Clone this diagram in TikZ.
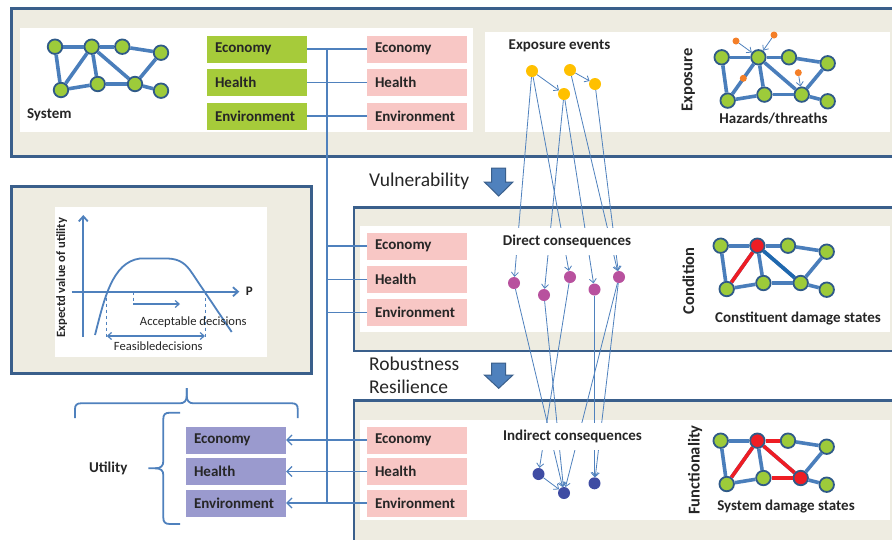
\documentclass[tikz,border=0pt]{standalone}
\usepackage{fontspec}
\setmainfont{Carlito}
\usetikzlibrary{arrows.meta}
\definecolor{beige}{HTML}{EEECE1}
\definecolor{bord}{HTML}{3A5F8B}
\definecolor{gboxc}{HTML}{A6CB3A}
\definecolor{pboxc}{HTML}{F8C7C5}
\definecolor{uboxc}{HTML}{9A9ACE}
\definecolor{cblue}{HTML}{4F81BD}
\definecolor{netblue}{HTML}{4A7EBB}
\definecolor{ngreen}{HTML}{9DCB3A}
\definecolor{nbord}{HTML}{2F5A88}
\definecolor{yel}{HTML}{FFC000}
\definecolor{mag}{HTML}{B8519E}
\definecolor{ind}{HTML}{3F4CA3}
\definecolor{orng}{HTML}{F47F28}
\definecolor{dred}{HTML}{EE1D24}
\definecolor{dblue}{HTML}{1F68AE}
\definecolor{txt}{HTML}{262626}
\newcommand\lblfont{\bfseries\fontsize{15}{18}\selectfont}
\newcommand\rotfont{\bfseries\fontsize{16.5}{19}\selectfont}
\newcommand\bigfont{\fontsize{19.5}{23}\selectfont}
\newcommand\plotfont{\fontsize{12.6}{15}\selectfont}
% network nodes: prefix, fill of node 2, fill of node 7
\newcommand\netnodes[3]{%
  \node[nd] (#1-1) at (55,46.7) {};
  \node[nd,fill=#2] (#1-2) at (91.7,46.7) {};
  \node[nd] (#1-3) at (122.3,46.7) {};
  \node[nd] (#1-4) at (161,52.7) {};
  \node[nd] (#1-5) at (61,90) {};
  \node[nd] (#1-6) at (97.7,84) {};
  \node[nd,fill=#3] (#1-7) at (135,84) {};
  \node[nd] (#1-8) at (161,90.7) {};
  \foreach \a/\b in {1/2,2/3,3/4,1/5,5/2,2/6,2/7,5/6,6/7,7/4,7/8}
    \draw[edge] (#1-\a) -- (#1-\b);
}
\begin{document}
\begin{tikzpicture}[x=1pt,y=-1pt,
  panel/.style={fill=beige,draw=bord,line width=2.6pt},
  inner/.style={fill=white,draw=none},
  lbox/.style={rectangle,minimum height=27pt,text width=84pt,inner xsep=8pt,inner ysep=0pt,
     align=left,font=\lblfont,text=txt},
  gbox/.style={lbox,fill=gboxc},
  pbox/.style={lbox,fill=pboxc},
  ubox/.style={lbox,fill=uboxc},
  conn/.style={draw=cblue,line width=1.2pt},
  thin/.style={draw=cblue,line width=0.8pt},
  arr/.style={-{Straight Barb[length=4pt,width=7pt]}},
  bigarr/.style={-{Straight Barb[length=5pt,width=10pt]}},
  nd/.style={circle,minimum size=14.5pt,inner sep=0pt,draw=nbord,line width=1.8pt,fill=ngreen},
  edge/.style={draw=netblue,line width=3.6pt},
  redge/.style={draw=dred,line width=3.6pt},
  dot/.style={circle,minimum size=12pt,inner sep=0pt,draw=none},
  odot/.style={circle,minimum size=7pt,inner sep=0pt,fill=orng},
  tlabel/.style={font=\lblfont,text=txt,inner sep=0pt},
  clabel/.style={font=\lblfont,text=txt,fill=white,inner xsep=2pt,inner ysep=0pt,minimum height=27pt},
  rlabel/.style={font=\rotfont,text=txt,inner sep=0pt,rotate=90},
  blockarr/.style={fill=cblue,draw=bord,line width=1pt},
  plotline/.style={draw=cblue,line width=1.8pt},
  brace/.style={draw=cblue,line width=1.8pt}
]
\clip (0,0) rectangle (892,539);
\fill[white] (0,0) rectangle (892,539);

% ---------- panels ----------
\draw[panel] (11.7,8.3) rectangle (910,156.7);
\fill[inner] (20,28) rectangle (473,132);
\fill[inner] (485,32) rectangle (890,132);

\draw[panel] (354,207.7) rectangle (910,351);
\fill[inner] (360,226) rectangle (890,331.7);

\draw[panel] (354,400.5) rectangle (910,580);
\fill[inner] (360,420) rectangle (890,520);

\draw[panel] (11.7,186.7) rectangle (311.7,373.3);
\fill[inner] (55,207.3) rectangle (266.7,356.7);

% ---------- system network ----------
\netnodes{s}{ngreen}{ngreen}
\node[tlabel] (system) at (49.3,114.3) {System};

% ---------- top boxes ----------
\node[gbox] (ge) at (257,49) {Economy};
\node[gbox] (gh) at (257,82.5) {Health};
\node[gbox] (gv) at (257,116) {Environment};
\node[pbox] (pe) at (417,49) {Economy};
\node[pbox] (ph) at (417,82.5) {Health};
\node[pbox] (pv) at (417,116) {Environment};

% ---------- middle boxes ----------
\node[pbox] (me) at (417,246) {Economy};
\node[pbox] (mh) at (417,279.5) {Health};
\node[pbox] (mv) at (417,312.5) {Environment};

% ---------- bottom boxes ----------
\node[pbox] (be) at (417,440) {Economy};
\node[pbox] (bh) at (417,471.5) {Health};
\node[pbox] (bv) at (417,503) {Environment};
\node[ubox] (ue) at (236,440) {Economy};
\node[ubox] (uh) at (236,471.5) {Health};
\node[ubox] (uv) at (236,503) {Environment};

% ---------- trunk connectors ----------
\coordinate (t1) at (327,49);
\coordinate (t2) at (327,503);
\draw[conn] (ge.east) -- (pe.west);
\draw[conn] (gh.east) -- (ph.west);
\draw[conn] (gv.east) -- (pv.west);
\draw[conn] (t1) -- (t2);
\draw[conn] (t1 |- me.west) -- (me.west);
\draw[conn] (t1 |- mh.west) -- (mh.west);
\draw[conn] (t1 |- mv.west) -- (mv.west);
\draw[conn,bigarr] (be.west) -- (ue.east);
\draw[conn,bigarr] (bh.west) -- (uh.east);
\draw[conn,bigarr] (bv.west) -- (uv.east);

% ---------- hazard network ----------
\begin{scope}[shift={(666.7,10.6)}]
\netnodes{h}{ngreen}{ngreen}
\end{scope}
\node[odot] (o1) at (736,41) {};
\node[odot] (o2) at (774,35) {};
\node[odot] (o3) at (743.3,78.3) {};
\node[odot] (o4) at (798.3,72.7) {};
\draw[thin,arr] (o1) -- (h-2);
\draw[thin,arr] (o2) -- (h-2);
\draw[thin,arr] (o4) -- (h-7);
\node[rlabel] (lexp) at (688.3,80) {Exposure};
\node[tlabel] (lhaz) at (773.5,119) {Hazards/threaths};

% ---------- condition network ----------
\begin{scope}[shift={(665.7,199)}]
\netnodes{c}{dred}{ngreen}
\end{scope}
\draw[redge] (c-2) -- (c-5);
\draw[draw=dblue,line width=3.6pt] (c-2) -- (c-7);
\node[rlabel] (lcond) at (688.3,281) {Condition};
\node[tlabel] (lcds) at (798,318.3) {Constituent damage states};

% ---------- functionality network ----------
\begin{scope}[shift={(665.7,394)}]
\netnodes{f}{dred}{dred}
\end{scope}
\draw[redge] (f-2) -- (f-3);
\draw[redge] (f-2) -- (f-5);
\draw[redge] (f-2) -- (f-7);
\draw[redge] (f-6) -- (f-7);
\node[rlabel] (lfun) at (695,470) {Functionality};
\node[tlabel] (lsds) at (786,506.7) {System damage states};

% ---------- exposure / consequences ----------
\node[tlabel] (lev) at (559.5,46) {Exposure events};

\node[dot,fill=yel] (y1) at (532,71) {};
\node[dot,fill=yel] (y2) at (564,94) {};
\node[dot,fill=yel] (y3) at (570,70) {};
\node[dot,fill=yel] (y4) at (595,84) {};
\node[dot,fill=mag] (m1) at (514,283) {};
\node[dot,fill=mag] (m2) at (544,295) {};
\node[dot,fill=mag] (m3) at (570,277) {};
\node[dot,fill=mag] (m4) at (594.5,289.5) {};
\node[dot,fill=mag] (m5) at (619,277) {};
\node[dot,fill=ind] (b1) at (538.5,474) {};
\node[dot,fill=ind] (b2) at (564,493) {};
\node[dot,fill=ind] (b3) at (594.5,483.3) {};

\draw[thin,arr] (y1) -- (y2);
\draw[thin,arr] (y3) -- (y4);
\draw[thin,arr] (y1) -- (m1);
\draw[thin,arr] (y1) -- (m3);
\draw[thin,arr] (y2) -- (m2);
\draw[thin,arr] (y2) -- (m4);
\draw[thin,arr] (y3) -- (m5);
\draw[thin,arr] (y4) -- (m5);
\draw[thin,arr] (m1) -- (b2);
\draw[thin,arr] (m2) -- (b2);
\draw[thin,arr] (m3) -- (b1);
\draw[thin,arr] (m4) -- (b3);
\draw[thin,arr] (m5) -- (b2);
\draw[thin,arr] (m5) -- (b3);
\draw[thin,arr] (b1) -- (b2);

\node[clabel] (ldc) at (567,241.7) {Direct consequences};
\node[clabel] (lic) at (572.5,436) {Indirect consequences};

% ---------- block arrows and captions ----------
\node[anchor=west,font=\bigfont,text=txt,inner sep=0pt] (vul) at (369,181.7) {Vulnerability};
\draw[blockarr] (491.7,168) -- (505.7,168) -- (505.7,182) -- (513,182) -- (498.7,196) -- (484.4,182) -- (491.7,182) -- cycle;
\node[anchor=west,font=\bigfont,text=txt,inner sep=0pt] (rob) at (369,363.3) {Robustness};
\node[anchor=west,font=\bigfont,text=txt,inner sep=0pt] (res) at (369,386.7) {Resilience};
\draw[blockarr] (491.7,363) -- (505.7,363) -- (505.7,375) -- (513,375) -- (498.7,388.3) -- (484.4,375) -- (491.7,375) -- cycle;

% ---------- utility plot ----------
\draw[plotline,-{Straight Barb[length=5pt,width=9pt]}] (83.3,336.7) -- (83.3,215);
\draw[plotline,-{Straight Barb[length=5pt,width=9pt]}] (71.7,291.7) -- (239.3,291.7);
\draw[plotline] (95,335) .. controls (104,300) and (112,262) .. (140,258.5) -- (168,258.5)
   .. controls (180,259) and (186,264) .. (192,273) -- (231.7,332);
\draw[cblue,line width=1pt,dashed] (106.7,291.7) -- (106.7,339.3);
\draw[cblue,line width=1pt,dashed] (205,291.7) -- (205,339.3);
\draw[cblue,line width=1pt,dashed] (133.3,291.7) -- (133.3,304);
\draw[cblue,line width=1.2pt,-{Straight Barb[length=4pt,width=7pt]}] (133.3,304) -- (180,304);
\draw[cblue,line width=1.2pt,{Straight Barb[length=4pt,width=7pt]}-{Straight Barb[length=4pt,width=7pt]}] (106.7,336) -- (205,336);
\node[font=\bfseries\fontsize{13}{15}\selectfont,text=txt,inner sep=0pt] (pl) at (249.3,291.7) {P};
\node[font=\plotfont,text=txt,inner sep=0pt] (acc) at (193.3,321.7) {Acceptable decisions};
\node[font=\plotfont,text=txt,inner sep=0pt] (fea) at (158.3,345.7) {Feasibledecisions};
\node[font=\bfseries\fontsize{12.6}{15}\selectfont,text=txt,inner sep=0pt,rotate=90] (yl) at (61.7,277.5) {Expectd value of utility};

% ---------- braces ----------
\draw[brace] (75,418) -- (75,409) .. controls (75,405) and (77,403.3) .. (81,403.3) -- (180,403.3)
  .. controls (184,403.3) and (186.7,401) .. (186.7,396) -- (186.7,388);
\draw[brace] (186.7,388) -- (186.7,396) .. controls (186.7,401) and (189.4,403.3) .. (193.4,403.3) -- (292,403.3)
  .. controls (296,403.3) and (297.7,405) .. (297.7,409) -- (297.7,418);
\draw[brace] (180,412.7) -- (170,412.7) .. controls (165,412.7) and (163.3,414.5) .. (163.3,419) -- (163.3,461)
  .. controls (163.3,466) and (161,468.3) .. (155,468.3) -- (148.3,468.3);
\draw[brace] (155,468.3) .. controls (161,468.3) and (163.3,470.5) .. (163.3,475) -- (163.3,517.5)
  .. controls (163.3,522) and (165,524) .. (170,524) -- (180,524);
\node[tlabel] (util) at (108.3,468) {Utility};
\end{tikzpicture}
\end{document}
